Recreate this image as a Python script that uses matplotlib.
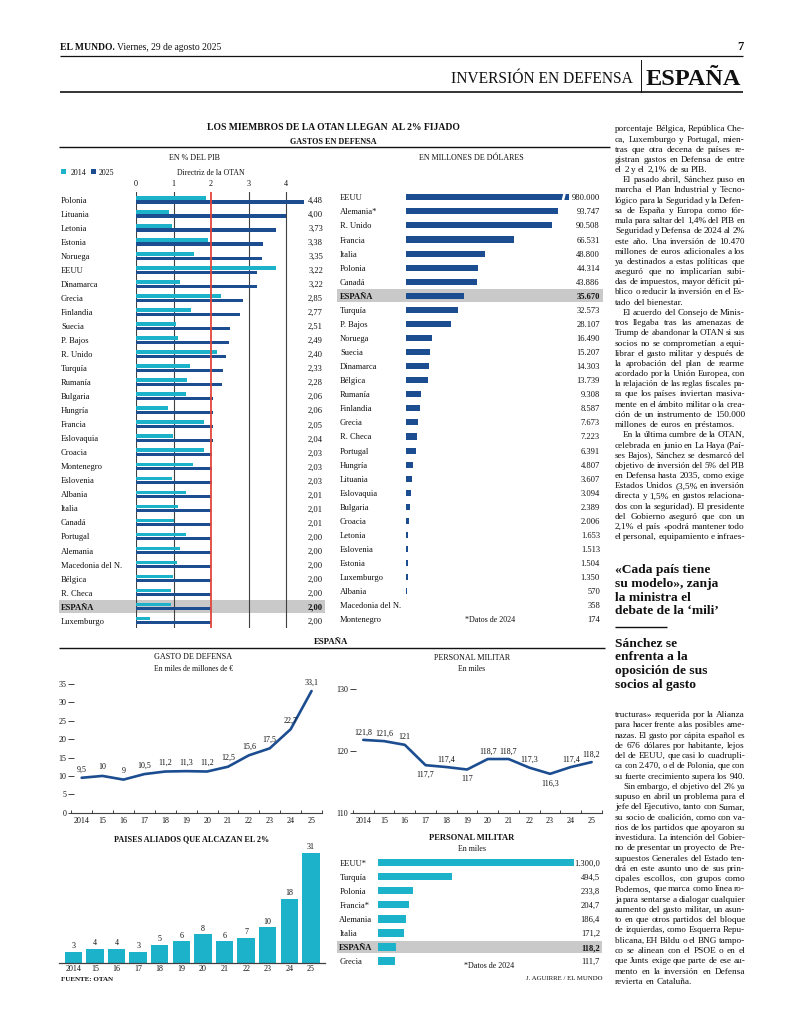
import matplotlib
matplotlib.use('Agg')
import matplotlib.pyplot as plt
import matplotlib.transforms as mtransforms
from matplotlib.patches import Rectangle

plt.rcParams['font.family'] = ['Liberation Serif', 'DejaVu Serif']

W, H = 800, 1024
CYAN = '#1cb2ca'
NAVY = '#1b4d90'
RED = '#e2453c'
GRID = '#404040'
BAND = '#c9c9c9'
INK = '#111111'

# ---------------- data ----------------
pct_countries = ['Polonia', 'Lituania', 'Letonia', 'Estonia', 'Noruega', 'EEUU', 'Dinamarca',
                 'Grecia', 'Finlandia', 'Suecia', 'P. Bajos', 'R. Unido', 'Turquía', 'Rumanía',
                 'Bulgaria', 'Hungría', 'Francia', 'Eslovaquia', 'Croacia', 'Montenegro',
                 'Eslovenia', 'Albania', 'Italia', 'Canadá', 'Portugal', 'Alemania',
                 'Macedonia del N.', 'Bélgica', 'R. Checa', 'ESPAÑA', 'Luxemburgo']
pct_2014 = [1.87, 0.88, 0.97, 1.91, 1.55, 3.72, 1.16, 2.26, 1.47, 1.07, 1.12, 2.15, 1.45, 1.35,
            1.32, 0.85, 1.82, 0.98, 1.81, 1.51, 0.97, 1.33, 1.13, 1.01, 1.32, 1.17, 1.08, 0.98,
            0.94, 0.92, 0.37]
pct_2025 = [4.48, 4.00, 3.73, 3.38, 3.35, 3.22, 3.22, 2.85, 2.77, 2.51, 2.49, 2.40, 2.33, 2.28,
            2.06, 2.06, 2.05, 2.04, 2.03, 2.03, 2.03, 2.01, 2.01, 2.01, 2.00, 2.00, 2.00, 2.00,
            2.00, 2.00, 2.00]
pct_ticks = [0, 1, 2, 3, 4]
nato_target = 2

usd_countries = ['EEUU', 'Alemania*', 'R. Unido', 'Francia', 'Italia', 'Polonia', 'Canadá',
                 'ESPAÑA', 'Turquía', 'P. Bajos', 'Noruega', 'Suecia', 'Dinamarca', 'Bélgica',
                 'Rumanía', 'Finlandia', 'Grecia', 'R. Checa', 'Portugal', 'Hungría', 'Lituania',
                 'Eslovaquia', 'Bulgaria', 'Croacia', 'Letonia', 'Eslovenia', 'Estonia',
                 'Luxemburgo', 'Albania', 'Macedonia del N.', 'Montenegro']
usd_values = [980000, 93747, 90508, 66531, 48800, 44314, 43886, 35670, 32573, 28107, 16490,
              15207, 14303, 13739, 9308, 8587, 7673, 7223, 6391, 4807, 3607, 3094, 2389, 2006,
              1653, 1513, 1504, 1350, 570, 358, 174]
usd_clip = 100760

years = ['2014', '15', '16', '17', '18', '19', '20', '21', '22', '23', '24', '25']
gasto = [9.5, 10, 9, 10.5, 11.2, 11.3, 11.2, 12.5, 15.6, 17.5, 22.7, 33.1]
gasto_ticks = [0, 5, 10, 15, 20, 25, 30, 35]
personal = [121.8, 121.6, 121, 117.7, 117.4, 117, 118.7, 118.7, 117.3, 116.3, 117.4, 118.2]
personal_below = [3, 5, 9]
personal_ticks = [110, 120, 130]
aliados = [3, 4, 4, 3, 5, 6, 8, 6, 7, 10, 18, 31]

pers_countries = ['EEUU*', 'Turquía', 'Polonia', 'Francia*', 'Alemania', 'Italia', 'ESPAÑA', 'Grecia']
pers_values = [1300.0, 494.5, 233.8, 204.7, 186.4, 171.2, 118.2, 111.7]

col_top = [
    "porcentaje Bélgica, República Che-",
    "ca, Luxemburgo y Portugal, mien-",
    "tras que otra decena de países re-",
    "gistran gastos en Defensa de entre",
    "el 2 y el 2,1% de su PIB.¶",
    ">El pasado abril, Sánchez puso en",
    "marcha el Plan Industrial y Tecno-",
    "lógico para la Seguridad y la Defen-",
    "sa de España y Europa como fór-",
    "mula para saltar del 1,4% del PIB en",
    "Seguridad y Defensa de 2024 al 2%",
    "este año. Una inversión de 10.470",
    "millones de euros adicionales a los",
    "ya destinados a estas políticas que",
    "aseguró que no implicarían subi-",
    "das de impuestos, mayor déficit pú-",
    "blico o reducir la inversión en el Es-",
    "tado del bienestar.¶",
    ">El acuerdo del Consejo de Minis-",
    "tros llegaba tras las amenazas de",
    "Trump de abandonar la OTAN si sus",
    "socios no se comprometían a equi-",
    "librar el gasto militar y después de",
    "la aprobación del plan de rearme",
    "acordado por la Unión Europea, con",
    "la relajación de las reglas fiscales pa-",
    "ra que los países inviertan masiva-",
    "mente en el ámbito militar o la crea-",
    "ción de un instrumento de 150.000",
    "millones de euros en préstamos.¶",
    ">En la última cumbre de la OTAN,",
    "celebrada en junio en La Haya (Paí-",
    "ses Bajos), Sánchez se desmarcó del",
    "objetivo de inversión del 5% del PIB",
    "en Defensa hasta 2035, como exige",
    "Estados Unidos (3,5% en inversión",
    "directa y 1,5% en gastos relaciona-",
    "dos con la seguridad). El presidente",
    "del Gobierno aseguró que con un",
    "2,1% el país «podrá mantener todo",
    "el personal, equipamiento e infraes-",
]
col_bottom = [
    "tructuras» requerida por la Alianza",
    "para hacer frente a las posibles ame-",
    "nazas. El gasto por cápita español es",
    "de 676 dólares por habitante, lejos",
    "del de EEUU, que casi lo cuadrupli-",
    "ca con 2.470, o el de Polonia, que con",
    "su fuerte crecimiento supera los 940.",
    ">Sin embargo, el objetivo del 2% ya",
    "supuso en abril un problema para el",
    "jefe del Ejecutivo, tanto con Sumar,",
    "su socio de coalición, como con va-",
    "rios de los partidos que apoyaron su",
    "investidura. La intención del Gobier-",
    "no de presentar un proyecto de Pre-",
    "supuestos Generales del Estado ten-",
    "drá en este asunto uno de sus prin-",
    "cipales escollos, con grupos como",
    "Podemos, que marca como línea ro-",
    "ja para sentarse a dialogar cualquier",
    "aumento del gasto militar, un asun-",
    "to en que otros partidos del bloque",
    "de izquierdas, como Esquerra Repu-",
    "blicana, EH Bildu o el BNG tampo-",
    "co se alinean con el PSOE o en el",
    "que Junts exige que parte de ese au-",
    "mento en la inversión en Defensa",
    "revierta en Cataluña.¶",
]
headline1 = ["«Cada país tiene", "su modelo», zanja", "la ministra el", "debate de la ‘mili’"]
headline2 = ["Sánchez se", "enfrenta a la", "oposición de sus", "socios al gasto"]


def es_num(v, dec):
    s = f"{v:,.{dec}f}"
    return s.replace(',', '#').replace('.', ',').replace('#', '.')


def auto_num(v):
    return es_num(v, 0) if float(v).is_integer() else es_num(v, 1)


# ---------------- figure ----------------
fig = plt.figure(figsize=(W / 100, H / 100), dpi=100)
fig.patch.set_facecolor('white')
bg = fig.add_axes([0, 0, 1, 1])
bg.set_xlim(0, W)
bg.set_ylim(H, 0)
bg.axis('off')
renderer = fig.canvas.get_renderer()

VA = 'center_baseline'
LBL = 6.1


def px_axes(x0, y0, x1, y1):
    ax = fig.add_axes([x0 / W, 1 - y1 / H, (x1 - x0) / W, (y1 - y0) / H])
    ax.patch.set_visible(False)
    return ax


def hline(y, x0, x1, lw=0.8, color=INK):
    bg.plot([x0, x1], [y, y], color=color, lw=lw, solid_capstyle='butt')


def T(x, y, s, size, ha='left', weight='normal', color=INK, **kw):
    return bg.text(x, y, s, fontsize=size, ha=ha, va=VA, fontweight=weight, color=color, **kw)


_wc = {}


def tw(s, size, weight='normal'):
    key = (s, size, weight)
    if key not in _wc:
        t = bg.text(0, 0, s, fontsize=size, fontweight=weight)
        _wc[key] = t.get_window_extent(renderer).width
        t.remove()
    return _wc[key]


def draw_column(lines, x0, x1, y0, dy, size):
    for i, raw in enumerate(lines):
        indent = raw.startswith('>')
        end = raw.endswith('¶')
        s = raw.lstrip('>').rstrip('¶')
        xs = x0 + (8 if indent else 0)
        y = y0 + i * dy
        words = s.split(' ')
        sz = size
        sp = tw('a a', sz) - tw('aa', sz)
        widths = [tw(w, sz) for w in words]
        natural = sum(widths) + sp * 0.7 * (len(words) - 1)
        if natural > (x1 - xs):
            sz = size * (x1 - xs) / natural * 0.995
            widths = [tw(w, sz) for w in words]
            sp = tw('a a', sz) - tw('aa', sz)
        if end or len(words) == 1:
            gap = sp
        else:
            gap = (x1 - xs - sum(widths)) / (len(words) - 1)
        x = xs
        for w, wd in zip(words, widths):
            bg.text(x, y, w, fontsize=sz, va=VA, ha='left', color=INK)
            x += wd + gap


def rows_axes(x0, x1, xmax, row0, step, top, bottom):
    ax = px_axes(x0, top, x1, bottom)
    ax.set_xlim(0, xmax)
    ax.set_ylim((bottom - row0) / step, (top - row0) / step)
    return ax


def blend(ax):
    return mtransforms.blended_transform_factory(bg.transData, ax.transData)


# ---------------- page header ----------------
T(60, 46, 'EL MUNDO.', 6.9, weight='bold')
T(60 + tw('EL MUNDO.', 6.9, 'bold') + 2, 46, 'Viernes, 29 de agosto 2025', 6.9)
T(743, 46, '7', 9, ha='right', weight='bold')
hline(56, 60, 743, 0.9)
T(633, 77, 'INVERSIÓN EN DEFENSA', 11.2, ha='right')
bg.plot([641, 641], [60, 92], color=INK, lw=0.7)
T(646, 77, 'ESPAÑA', 17.5, weight='bold')
hline(92, 60, 743, 1.2)

# ---------------- chart headings ----------------
T(333, 126, 'LOS MIEMBROS DE LA OTAN LLEGAN  AL 2% FIJADO', 6.9, ha='center', weight='bold')
T(333, 140.7, 'GASTOS EN DEFENSA', 5.9, ha='center', weight='bold')
hline(147.3, 59, 610, 1.0)
T(194, 156.7, 'EN % DEL PIB', 5.8, ha='center')
T(471.7, 156.5, 'EN MILLONES DE DÓLARES', 5.8, ha='center')

# legend
bg.add_patch(Rectangle((60.5, 169.2), 5, 5, color=CYAN, lw=0))
T(70.5, 171.7, '2014', 5.7)
bg.add_patch(Rectangle((90.5, 169.2), 5, 5, color=NAVY, lw=0))
T(99, 171.7, '2025', 5.7)
T(211, 171.7, 'Directriz de la OTAN', 5.6, ha='center')

# ---------------- % of GDP chart ----------------
n = len(pct_countries)
axp = rows_axes(136, 136 + 4.8 * 37.5, 4.8, 200, 14.02, 191.7, 628.3)
axp.set_frame_on(False)
idx = list(range(n))
axp.barh([i - 0.153 for i in idx], pct_2014, height=0.245, color=CYAN, zorder=2)
axp.barh([i + 0.153 for i in idx], pct_2025, height=0.245, color=NAVY, zorder=2)
for v in pct_ticks:
    if v == nato_target:
        axp.axvline(v, color=RED, lw=1.3, zorder=3)
    else:
        axp.axvline(v, color=GRID, lw=0.8, zorder=1)
axp.set_xticks(pct_ticks)
axp.set_xticklabels([str(v) for v in pct_ticks], fontsize=5.9)
axp.xaxis.tick_top()
axp.tick_params(axis='x', length=0, pad=3, top=True, labeltop=True, bottom=False,
                labelbottom=False, labelcolor=INK)
axp.set_yticks([])
tr = blend(axp)
for i, (c, v) in enumerate(zip(pct_countries, pct_2025)):
    wgt = 'bold' if c == 'ESPAÑA' else 'normal'
    axp.text(61, i, c, transform=tr, fontsize=LBL, va=VA, ha='left', fontweight=wgt,
             color=INK, clip_on=False, zorder=4)
    axp.text(323, i, es_num(v, 2), transform=tr, fontsize=LBL, va=VA, ha='right',
             fontweight=wgt, color=INK, clip_on=False, zorder=4)
    if c == 'ESPAÑA':
        axp.add_patch(Rectangle((59, i - 0.45), 325 - 59, 0.9, transform=tr, color=BAND,
                                lw=0, zorder=0.5, clip_on=False))

# ---------------- USD chart ----------------
m = len(usd_countries)
axu = rows_axes(405.7, 405.7 + 105000 / 617, 105000, 197.3, 14.07, 190, 626)
axu.axis('off')
widths = [min(v, usd_clip) for v in usd_values]
axu.barh(range(m), widths, height=0.43, color=NAVY, zorder=2)
for i, v in enumerate(usd_values):
    if v > usd_clip:
        brk = usd_clip - 3300
        axu.plot([brk - 700, brk + 700], [i + 0.32, i - 0.32], color='white', lw=1.8,
                 zorder=3, solid_capstyle='butt')
tru = blend(axu)
for i, (c, v) in enumerate(zip(usd_countries, usd_values)):
    wgt = 'bold' if c == 'ESPAÑA' else 'normal'
    axu.text(340, i, c, transform=tru, fontsize=LBL, va=VA, ha='left', fontweight=wgt,
             color=INK, clip_on=False, zorder=4)
    axu.text(600, i, es_num(v, 0), transform=tru, fontsize=LBL, va=VA, ha='right',
             fontweight=wgt, color=INK, clip_on=False, zorder=4)
    if c == 'ESPAÑA':
        axu.add_patch(Rectangle((337, i - 0.46), 603 - 337, 0.92, transform=tru, color=BAND,
                                lw=0, zorder=0.5, clip_on=False))
axu.text(490, m - 1, '*Datos de 2024', transform=tru, fontsize=5.8, va=VA, ha='center',
         color=INK, clip_on=False)

# ---------------- ESPAÑA section ----------------
T(331, 641, 'ESPAÑA', 6.3, ha='center', weight='bold')
hline(648.3, 59, 605, 1.0)


def style_line_axes(ax, yticks, ylabels):
    for s in ['top', 'right', 'left']:
        ax.spines[s].set_visible(False)
    ax.spines['bottom'].set_color(GRID)
    ax.spines['bottom'].set_linewidth(0.8)
    ax.set_xlim(-0.5, 11.5)
    ax.set_xticks(range(12))
    ax.set_xticklabels(years, fontsize=5.8)
    ax.set_xticks([i - 0.5 for i in range(13)], minor=True)
    ax.tick_params(axis='x', which='major', length=0, pad=3.2, colors=INK)
    ax.tick_params(axis='x', which='minor', length=2.3, width=0.7, direction='in', color=GRID)
    ax.set_yticks(yticks)
    ax.set_yticklabels(ylabels, fontsize=5.8)
    ax.tick_params(axis='y', length=4.3, width=0.7, direction='inout', pad=1.2, color=GRID,
                   labelcolor=INK)


# Gasto de defensa
T(193.3, 656, 'GASTO DE DEFENSA', 5.9, ha='center')
T(193.3, 668.3, 'En miles de millones de €', 5.5, ha='center')
axg = px_axes(71.2, 684, 322, 812.7)
axg.set_ylim(0, 35)
style_line_axes(axg, gasto_ticks, [str(v) for v in gasto_ticks])
axg.plot(range(12), gasto, color=NAVY, lw=1.9, solid_capstyle='round', clip_on=False)
for i, v in enumerate(gasto):
    axg.annotate(auto_num(v), (i, v), xytext=(0, 3.2), textcoords='offset points',
                 ha='center', va='bottom', fontsize=5.8, color=INK, annotation_clip=False)

# Personal militar (line)
T(471.7, 656.7, 'PERSONAL MILITAR', 5.9, ha='center')
T(471.7, 668.3, 'En miles', 5.5, ha='center')
axm = px_axes(352.9, 812.7 - 21 * 6.17, 602, 812.7)
axm.set_ylim(110, 131)
style_line_axes(axm, personal_ticks, [str(v) for v in personal_ticks])
axm.plot(range(12), personal, color=NAVY, lw=1.9, solid_capstyle='round')
for i, v in enumerate(personal):
    below = i in personal_below
    axm.annotate(auto_num(v), (i, v), xytext=(0, -4 if below else 2.5), textcoords='offset points',
                 ha='center', va='top' if below else 'bottom', fontsize=5.8, color=INK,
                 annotation_clip=False)

# Paises aliados
T(191.7, 838.3, 'PAISES ALIADOS QUE ALCAZAN EL 2%', 5.9, ha='center', weight='bold')
axa = px_axes(59.3, 962.7 - 33 * 3.55, 325, 962.7)
axa.set_xlim(-0.648, 11.65)
axa.set_ylim(0, 33)
for s in ['top', 'right', 'left']:
    axa.spines[s].set_visible(False)
axa.spines['bottom'].set_color(GRID)
axa.spines['bottom'].set_linewidth(0.9)
axa.bar(range(12), aliados, width=0.8, color=CYAN)
axa.set_xticks(range(12))
axa.set_xticklabels(years, fontsize=5.8)
axa.tick_params(axis='x', length=0, pad=1.5, colors=INK)
axa.set_yticks([])
for i, v in enumerate(aliados):
    axa.annotate(str(v), (i, v), xytext=(0, 1.2), textcoords='offset points', ha='center',
                 va='bottom', fontsize=5.8, color=INK, annotation_clip=False)
T(60.7, 979.3, 'FUENTE: OTAN', 5.0, weight='bold')

# Personal militar (bars)
T(471.7, 837.3, 'PERSONAL MILITAR', 6.1, ha='center', weight='bold')
T(471.7, 847.6, 'En miles', 5.7, ha='center')
k = len(pers_countries)
axb = rows_axes(377.7, 600, (600 - 377.7) / 0.151, 862.7, 14.04, 854, 969)
axb.axis('off')
axb.barh(range(k), pers_values, height=0.52, color=CYAN, zorder=2)
trb = blend(axb)
for i, (c, v) in enumerate(zip(pers_countries, pers_values)):
    wgt = 'bold' if c == 'ESPAÑA' else 'normal'
    axb.text(339.3, i, c, transform=trb, fontsize=LBL, va=VA, ha='left', fontweight=wgt,
             color=INK, clip_on=False, zorder=4)
    axb.text(600, i, es_num(v, 1), transform=trb, fontsize=LBL, va=VA, ha='right',
             fontweight=wgt, color=INK, clip_on=False, zorder=4)
    if c == 'ESPAÑA':
        axb.add_patch(Rectangle((337.3, i - 0.42), 601.7 - 337.3, 0.84, transform=trb,
                                color=BAND, lw=0, zorder=0.5, clip_on=False))
T(489.3, 965, '*Datos de 2024', 5.8, ha='center')
T(602.7, 978.3, 'J. AGUIRRE / EL MUNDO', 4.9, ha='right')

# ---------------- text column ----------------
draw_column(col_top, 615, 745, 128.3, 10.2, 6.7)
for i, s in enumerate(headline1):
    T(615, 568.3 + i * 13.9, s, 9.7, weight='bold')
hline(626.7, 615, 667, 1.0)
for i, s in enumerate(headline2):
    T(615, 642.3 + i * 13.7, s, 9.7, weight='bold')
draw_column(col_bottom, 615, 745, 714, 10.26, 6.7)

fig.savefig('out.png', dpi=100, facecolor='white')
